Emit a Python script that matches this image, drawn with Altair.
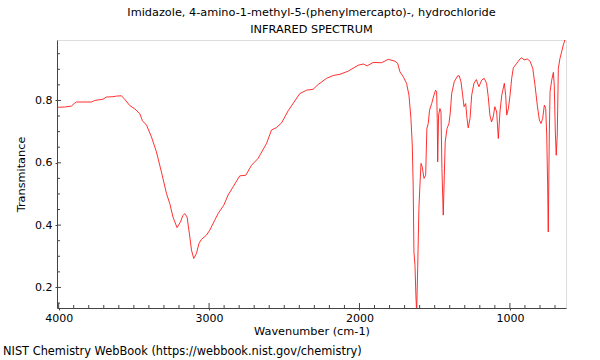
import altair as alt
import pandas as pd

# Spectrum values (wavenumber cm-1, transmittance)
wavenumber = [4011, 3960, 3915, 3897, 3882, 3782, 3760, 3705, 3683, 3639, 3616, 3583, 3561,
              3528, 3494, 3461, 3443, 3416, 3383, 3350, 3317, 3283, 3261, 3240, 3213, 3190,
              3175, 3162, 3146, 3128, 3117, 3102, 3084, 3067, 3051, 3017, 2995, 2962, 2940,
              2902, 2874, 2840, 2796, 2756, 2718, 2674, 2618, 2585, 2552, 2518, 2474, 2397,
              2352, 2308, 2275, 2219, 2175, 2130, 2075, 2009, 1975, 1949, 1909, 1853, 1809,
              1764, 1746, 1731, 1709, 1687, 1671, 1658, 1649, 1643, 1638, 1631, 1625, 1620,
              1613, 1605, 1598, 1591, 1583, 1571, 1560, 1552, 1543, 1534, 1520, 1505, 1494,
              1487, 1483, 1480, 1474, 1465, 1458, 1452, 1443, 1436, 1430, 1418, 1405, 1396,
              1387, 1370, 1347, 1337, 1325, 1314, 1305, 1294, 1285, 1277, 1265, 1254, 1239,
              1223, 1206, 1188, 1171, 1155, 1144, 1133, 1122, 1111, 1100, 1088, 1077, 1066,
              1054, 1037, 1028, 1021, 1010, 999, 988, 977, 955, 933, 921, 906, 884, 866, 848,
              833, 818, 804, 793, 782, 771, 762, 755, 749, 745, 738, 733, 722, 711, 705, 698,
              692, 685, 678, 667, 656, 645, 634, 627]
transmittance = [0.778, 0.779, 0.782, 0.790, 0.795, 0.795, 0.800, 0.804, 0.811, 0.812, 0.814,
                 0.815, 0.804, 0.784, 0.773, 0.758, 0.735, 0.721, 0.683, 0.635, 0.571, 0.501,
                 0.469, 0.426, 0.392, 0.410, 0.430, 0.437, 0.426, 0.362, 0.320, 0.293, 0.309,
                 0.341, 0.354, 0.368, 0.384, 0.416, 0.437, 0.464, 0.496, 0.523, 0.558, 0.560,
                 0.592, 0.614, 0.662, 0.705, 0.713, 0.728, 0.767, 0.822, 0.833, 0.836, 0.851,
                 0.871, 0.880, 0.884, 0.894, 0.913, 0.917, 0.911, 0.922, 0.921, 0.932, 0.926,
                 0.919, 0.892, 0.876, 0.855, 0.817, 0.742, 0.657, 0.528, 0.314, 0.271, 0.175,
                 0.120, 0.261, 0.453, 0.528, 0.598, 0.587, 0.550, 0.560, 0.710, 0.726, 0.769,
                 0.790, 0.817, 0.833, 0.828, 0.742, 0.603, 0.753, 0.774, 0.763, 0.582, 0.432,
                 0.560, 0.667, 0.710, 0.726, 0.763, 0.822, 0.860, 0.879, 0.879, 0.860, 0.817,
                 0.780, 0.790, 0.742, 0.712, 0.742, 0.817, 0.855, 0.867, 0.844, 0.865, 0.871,
                 0.855, 0.812, 0.753, 0.731, 0.747, 0.780, 0.763, 0.678, 0.763, 0.817, 0.855,
                 0.817, 0.753, 0.774, 0.817, 0.871, 0.905, 0.919, 0.933, 0.937, 0.930, 0.933,
                 0.926, 0.903, 0.849, 0.785, 0.737, 0.726, 0.742, 0.785, 0.774, 0.689, 0.528,
                 0.378, 0.689, 0.828, 0.865, 0.890, 0.849, 0.699, 0.624, 0.689, 0.903, 0.935,
                 0.956, 0.978, 0.994, 0.997]

x_major = [4000, 3000, 2000, 1000]
x_minor = [3900, 3800, 3700, 3600, 3500, 3400, 3300, 3200, 3100, 2900, 2800, 2700, 2600,
           2500, 2400, 2300, 2200, 2100, 1900, 1800, 1700, 1600, 1500, 1400, 1300, 1200,
           1100, 900, 800, 700]
y_major = [0.2, 0.4, 0.6, 0.8]
y_minor = [0.15, 0.25, 0.3, 0.35, 0.45, 0.5, 0.55, 0.65, 0.7, 0.75, 0.85, 0.9, 0.95]

title_lines = ["Imidazole, 4-amino-1-methyl-5-(phenylmercapto)-, hydrochloride",
               "INFRARED SPECTRUM"]
x_title = "Wavenumber (cm-1)"
y_title = "Transmitance"
footnote = "NIST Chemistry WebBook (https://webbook.nist.gov/chemistry)"

FONT = "DejaVu Sans"
W, H = 509, 268

xs = alt.Scale(domain=[627, 4011], reverse=True, nice=False, zero=False)
ys = alt.Scale(domain=[0.134, 0.994], nice=False, zero=False)

x_axis = alt.Axis(values=x_major, format="d", title=x_title, grid=False,
                  tickSize=2, labelPadding=2, titlePadding=2,
                  domainColor="#444444", tickColor="#444444",
                  labelFont=FONT, titleFont=FONT, labelFontSize=11, titleFontSize=11.3,
                  titleFontWeight="normal", labelColor="black", titleColor="black")
y_axis = alt.Axis(values=y_major, format=".1f", title=y_title, grid=False,
                  tickSize=2, labelPadding=3, titlePadding=8,
                  domainColor="#444444", tickColor="#444444",
                  labelFont=FONT, titleFont=FONT, labelFontSize=11, titleFontSize=11.3,
                  titleFontWeight="normal", labelColor="black", titleColor="black")

df = pd.DataFrame({"wn": wavenumber, "tr": transmittance})

line = alt.Chart(df).mark_line(color="#ff1a1a", strokeWidth=0.9, clip=True).encode(
    x=alt.X("wn:Q", scale=xs, axis=x_axis),
    y=alt.Y("tr:Q", scale=ys, axis=y_axis),
)

xmaj = alt.Chart(pd.DataFrame({"wn": x_major})).mark_rule(color="#444444", strokeWidth=1).encode(
    x=alt.X("wn:Q", scale=xs, axis=x_axis), y=alt.value(H), y2=alt.value(H - 5))
xmin = alt.Chart(pd.DataFrame({"wn": x_minor})).mark_rule(color="#444444", strokeWidth=1).encode(
    x=alt.X("wn:Q", scale=xs, axis=x_axis), y=alt.value(H), y2=alt.value(H - 3))
ymaj = alt.Chart(pd.DataFrame({"tr": y_major})).mark_rule(color="#444444", strokeWidth=1).encode(
    y=alt.Y("tr:Q", scale=ys, axis=y_axis), x=alt.value(0), x2=alt.value(4))
ymin = alt.Chart(pd.DataFrame({"tr": y_minor})).mark_rule(color="#444444", strokeWidth=1).encode(
    y=alt.Y("tr:Q", scale=ys, axis=y_axis), x=alt.value(0), x2=alt.value(3))

note = alt.Chart(pd.DataFrame({"s": [footnote]})).mark_text(
    align="left", baseline="middle", font=FONT, fontSize=11.4, color="black").encode(
    x=alt.value(-54), y=alt.value(312), text="s:N")

chart = alt.layer(line, xmaj, xmin, ymaj, ymin, note).properties(
    width=W, height=H,
    title=alt.TitleParams(text=title_lines, font=FONT, fontSize=11.3, fontWeight="normal",
                          color="black", anchor="middle", lineHeight=17, offset=5),
    autosize=alt.AutoSizeParams(type="none"),
    padding={"left": 57, "top": 40, "right": 34, "bottom": 52},
).configure_view(stroke="#999999", strokeWidth=2).configure(background="white")

chart.save("out.html", embed_options={"renderer": "svg", "actions": False})
